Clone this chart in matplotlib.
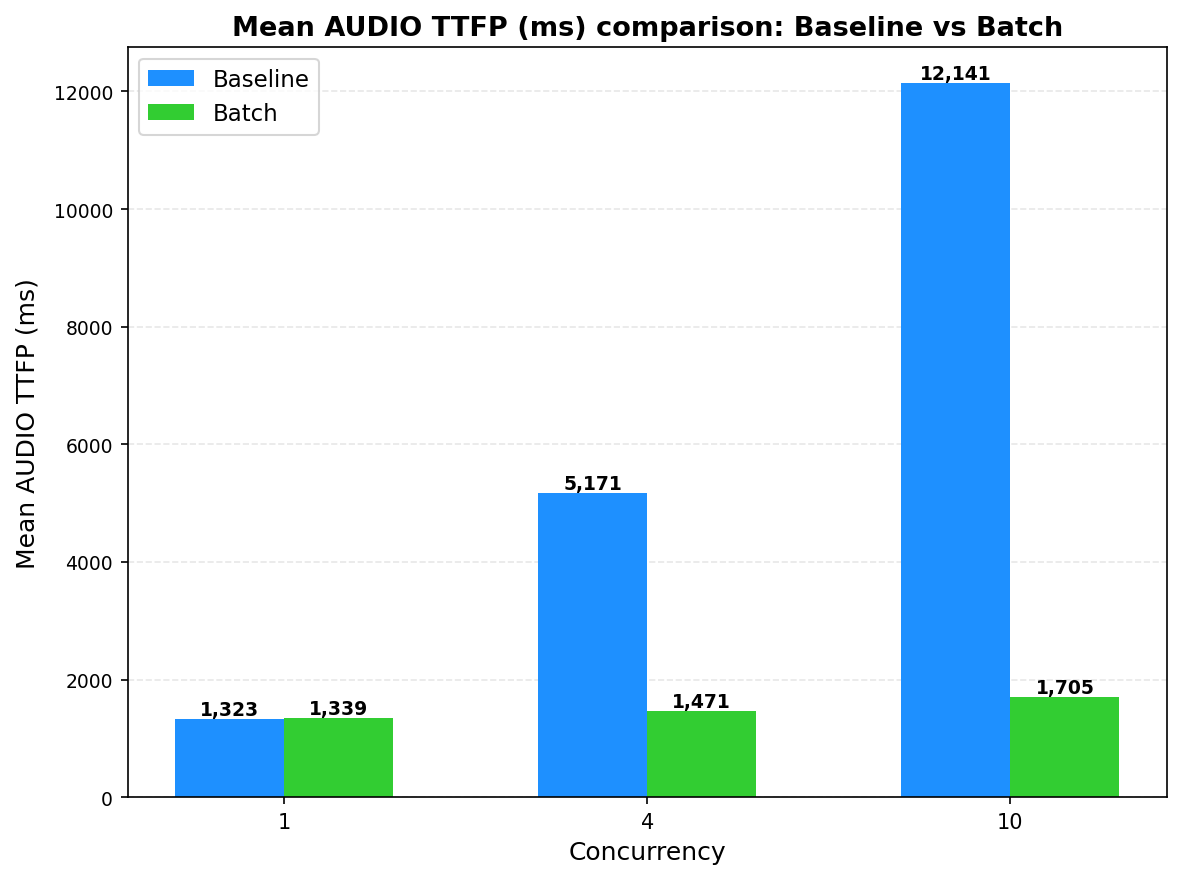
import matplotlib
matplotlib.use("Agg")
import matplotlib.pyplot as plt
import numpy as np

# Dados
concorrencia = ["1", "4", "10"]
baseline = [1323, 5171, 12141]
batch = [1339, 1471, 1705]

fig, ax = plt.subplots(figsize=(1182 / 150, 880 / 150), dpi=150)
x = np.arange(len(concorrencia))
largura = 0.3

b1 = ax.bar(x - largura / 2, baseline, largura, color="dodgerblue", label="Baseline")
b2 = ax.bar(x + largura / 2, batch, largura, color="limegreen", label="Batch")

# Rótulos em cima das barras
for barras in (b1, b2):
    for r in barras:
        ax.annotate(f"{r.get_height():,.0f}",
                    (r.get_x() + r.get_width() / 2, r.get_height()),
                    ha="center", va="bottom", fontsize=9, fontweight="bold")

ax.set_title("Mean AUDIO TTFP (ms) comparison: Baseline vs Batch",
             fontsize=13, fontweight="bold")
ax.set_xlabel("Concurrency", fontsize=12)
ax.set_ylabel("Mean AUDIO TTFP (ms)", fontsize=12, labelpad=7)
ax.set_xticks(x)
ax.set_xticklabels(concorrencia)
ax.tick_params(labelsize=9)
ax.tick_params(axis="x", labelsize=10)
ax.grid(axis="y", linestyle="--", alpha=0.3)
ax.set_axisbelow(True)
ax.legend(loc="upper left", fontsize=11)

plt.subplots_adjust(left=0.108, right=0.987, top=0.945, bottom=0.093)
plt.savefig("out.png", dpi=150)
plt.close()
